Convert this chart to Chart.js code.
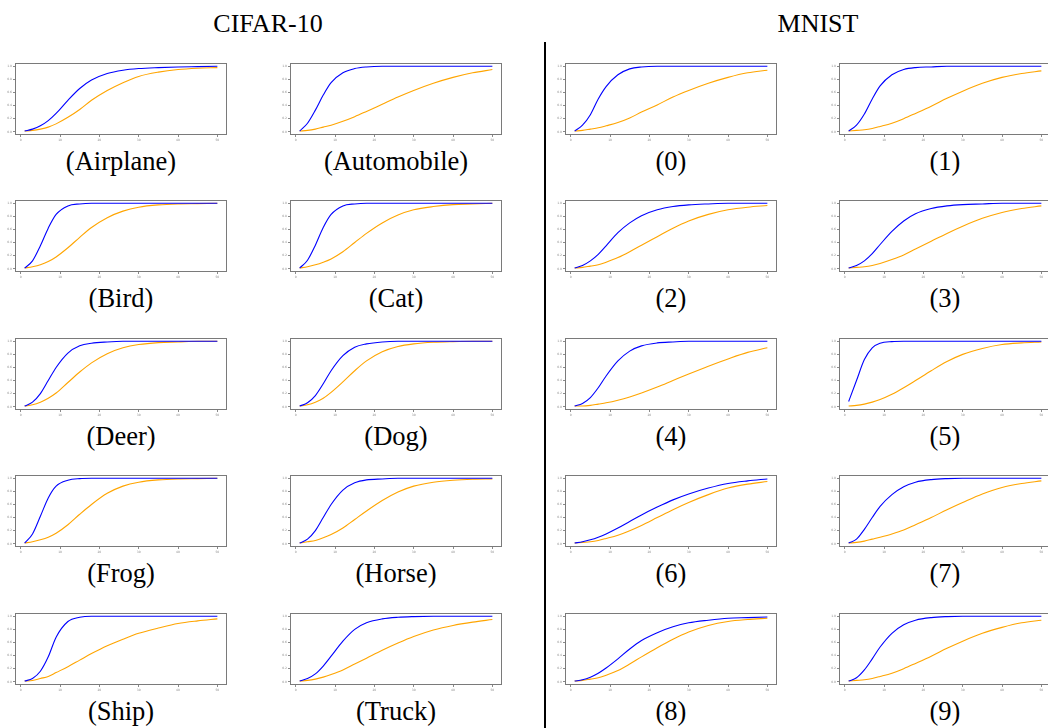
<!DOCTYPE html>
<html>
<head>
<meta charset="utf-8">
<script src="https://cdn.jsdelivr.net/npm/chart.js@4.4.1/dist/chart.umd.min.js"></script>
<style>
  html, body { margin:0; padding:0; background:#fff; width:1048px; height:728px; overflow:hidden; }
  body { position:relative; font-family:"Liberation Serif","Times New Roman",serif; }
  .panel { position:absolute; }
  .cap { position:absolute; width:300px; text-align:center; font-size:26.5px; line-height:30px; color:#000; white-space:nowrap; }
  .title { position:absolute; width:300px; text-align:center; font-size:26px; line-height:30px; color:#000; }
  #divider { position:absolute; left:544px; top:42px; width:1.5px; height:690px; background:#000; }
</style>
</head>
<body>
<div class="title" style="left:118px; top:9px;">CIFAR-10</div>
<div class="title" style="left:668px; top:9px;">MNIST</div>
<div id="divider"></div>
<script>
// ---------- data ----------
const epochs = [1, 3, 5, 7, 9, 12, 15, 18, 22, 26, 30, 35, 40, 45, 50];
const xTickValues = [0, 10, 20, 30, 40, 50];
const yTickValues = [0.0, 0.2, 0.4, 0.6, 0.8, 1.0];

const airplaneBlue   = [.01,.04,.09,.17,.28,.48,.66,.79,.89,.94,.965,.98,.99,.995,1];
const airplaneOrange = [.01,.02,.04,.07,.12,.22,.34,.48,.63,.75,.845,.91,.95,.97,.98];
const automobileBlue   = [.01,.13,.33,.56,.75,.9,.965,.99,1,1,1,1,1,1,1];
const automobileOrange = [.01,.02,.04,.07,.1,.16,.23,.31,.42,.53,.63,.74,.83,.9,.95];
const birdBlue   = [.01,.12,.35,.62,.83,.96,.99,1,1,1,1,1,1,1,1];
const birdOrange = [.01,.03,.06,.11,.18,.32,.48,.63,.78,.88,.94,.975,.99,.995,1];
const catBlue   = [.01,.13,.36,.63,.83,.96,.99,1,1,1,1,1,1,1,1];
const catOrange = [.01,.03,.06,.1,.15,.26,.4,.54,.7,.82,.9,.95,.98,.99,1];
const deerBlue   = [.01,.07,.2,.4,.6,.82,.93,.97,.99,1,1,1,1,1,1];
const deerOrange = [.01,.03,.07,.13,.21,.37,.53,.67,.81,.9,.95,.98,.99,1,1];
const dogBlue   = [.01,.06,.17,.35,.55,.78,.91,.96,.99,1,1,1,1,1,1];
const dogOrange = [.01,.03,.07,.13,.22,.38,.55,.7,.84,.92,.96,.985,.995,1,1];
const frogBlue   = [.01,.15,.42,.7,.88,.97,.995,1,1,1,1,1,1,1,1];
const frogOrange = [.01,.03,.06,.1,.16,.29,.45,.6,.77,.88,.94,.975,.99,.995,1];
const horseBlue   = [.01,.07,.2,.4,.6,.82,.93,.975,.99,1,1,1,1,1,1];
const horseOrange = [.01,.03,.05,.09,.14,.24,.37,.5,.66,.79,.88,.94,.97,.985,.99];
const shipBlue   = [.01,.05,.16,.38,.68,.92,.985,1,1,1,1,1,1,1,1];
const shipOrange = [.01,.02,.05,.08,.14,.23,.33,.43,.55,.65,.74,.82,.89,.93,.96];
const truckBlue   = [.01,.05,.12,.24,.39,.62,.8,.9,.96,.985,.995,1,1,1,1];
const truckOrange = [.01,.02,.04,.07,.11,.18,.27,.36,.48,.59,.69,.79,.86,.91,.95];

const digit0Blue   = [.01,.1,.26,.5,.69,.87,.96,.99,1,1,1,1,1,1,1];
const digit0Orange = [.01,.02,.04,.06,.09,.14,.21,.3,.41,.53,.63,.74,.83,.9,.94];
const digit1Blue   = [.01,.1,.27,.5,.7,.87,.95,.98,.99,1,1,1,1,1,1];
const digit1Orange = [.01,.02,.03,.05,.08,.13,.2,.28,.39,.51,.62,.74,.83,.89,.93];
const digit2Blue   = [.01,.05,.12,.22,.35,.55,.7,.81,.9,.95,.975,.99,1,1,1];
const digit2Orange = [.01,.02,.04,.06,.1,.17,.26,.36,.49,.62,.73,.83,.9,.94,.965];
const digit3Blue   = [.01,.05,.12,.23,.37,.57,.73,.84,.92,.96,.98,.99,1,1,1];
const digit3Orange = [.01,.02,.03,.05,.08,.14,.21,.3,.42,.54,.65,.77,.86,.92,.96];
const digit4Blue   = [.01,.05,.14,.29,.47,.7,.85,.93,.975,.99,1,1,1,1,1];
const digit4Orange = [.01,.01,.02,.04,.06,.1,.15,.21,.3,.4,.5,.62,.73,.83,.9];
const digit5Blue   = [.08,.4,.72,.9,.97,.995,1,1,1,1,1,1,1,1,1];
const digit5Orange = [.01,.02,.04,.07,.11,.19,.29,.4,.55,.69,.8,.89,.95,.975,.99];
const digit6Blue   = [.01,.03,.06,.1,.15,.24,.34,.44,.56,.67,.76,.85,.92,.96,.99];
const digit6Orange = [.01,.02,.03,.05,.08,.13,.2,.28,.4,.52,.63,.75,.85,.91,.95];
const digit7Blue   = [.01,.07,.22,.4,.57,.75,.87,.94,.98,.995,1,1,1,1,1];
const digit7Orange = [.01,.02,.04,.07,.1,.15,.21,.29,.4,.52,.63,.76,.86,.92,.96];
const digit8Blue   = [.01,.03,.07,.13,.21,.35,.5,.63,.75,.84,.9,.94,.97,.98,.99];
const digit8Orange = [.01,.02,.04,.06,.1,.17,.27,.38,.52,.65,.76,.86,.92,.95,.97];
const digit9Blue   = [.01,.06,.18,.35,.53,.74,.87,.94,.98,.995,1,1,1,1,1];
const digit9Orange = [.01,.02,.03,.05,.08,.13,.2,.28,.39,.51,.62,.74,.83,.9,.94];

const captions = ["(Airplane)","(Automobile)","(0)","(1)",
                  "(Bird)","(Cat)","(2)","(3)",
                  "(Deer)","(Dog)","(4)","(5)",
                  "(Frog)","(Horse)","(6)","(7)",
                  "(Ship)","(Truck)","(8)","(9)"];
const blueSeries = [airplaneBlue, automobileBlue, digit0Blue, digit1Blue,
                    birdBlue, catBlue, digit2Blue, digit3Blue,
                    deerBlue, dogBlue, digit4Blue, digit5Blue,
                    frogBlue, horseBlue, digit6Blue, digit7Blue,
                    shipBlue, truckBlue, digit8Blue, digit9Blue];
const orangeSeries = [airplaneOrange, automobileOrange, digit0Orange, digit1Orange,
                      birdOrange, catOrange, digit2Orange, digit3Orange,
                      deerOrange, dogOrange, digit4Orange, digit5Orange,
                      frogOrange, horseOrange, digit6Orange, digit7Orange,
                      shipOrange, truckOrange, digit8Orange, digit9Orange];

// ---------- layout ----------
const colLeft = [15, 290, 565, 839];
const rowTop  = [63, 200, 338, 475, 613];
const FW = 212, FH = 72;
const AXW = 10, AXH = 9, PADT = 3, PADR = 3;

const framePlugin = {
  id: 'frame',
  afterDraw(chart) {
    const a = chart.chartArea, c = chart.ctx;
    c.save();
    c.strokeStyle = '#7a7a7a';
    c.lineWidth = 1;
    c.strokeRect(Math.round(a.left) + 0.5, Math.round(a.top) + 0.5,
                 Math.round(a.right - a.left) - 1, Math.round(a.bottom - a.top) - 1);
    c.restore();
  }
};

captions.forEach((cap, i) => {
  const col = i % 4, row = Math.floor(i / 4);
  const fl = colLeft[col], ft = rowTop[row];
  const div = document.createElement('div');
  div.className = 'panel';
  div.style.left = (fl - AXW) + 'px';
  div.style.top = (ft - PADT) + 'px';
  const cv = document.createElement('canvas');
  const w = AXW + FW + PADR, h = PADT + FH + AXH;
  cv.width = w; cv.height = h;
  cv.style.width = w + 'px'; cv.style.height = h + 'px';
  div.appendChild(cv);
  document.body.appendChild(div);

  const capDiv = document.createElement('div');
  capDiv.className = 'cap';
  capDiv.textContent = cap;
  capDiv.style.left = (fl + FW / 2 - 150) + 'px';
  capDiv.style.top = (ft + 98 - 15) + 'px';
  document.body.appendChild(capDiv);

  const toPts = arr => epochs.map((x, k) => ({ x: x, y: arr[k] }));
  const tickFont = { size: 3, family: 'DejaVu Sans' };
  new Chart(cv, {
    type: 'line',
    data: {
      datasets: [
        { data: toPts(blueSeries[i]), borderColor: '#0000ff', borderWidth: 1.1,
          pointRadius: 0, cubicInterpolationMode: 'monotone', fill: false },
        { data: toPts(orangeSeries[i]), borderColor: '#ffa500', borderWidth: 1.1,
          pointRadius: 0, cubicInterpolationMode: 'monotone', fill: false }
      ]
    },
    options: {
      responsive: false, animation: false, events: [],
      layout: { padding: { left: 0, top: PADT, right: PADR, bottom: 0 } },
      plugins: { legend: { display: false }, tooltip: { enabled: false } },
      scales: {
        x: {
          type: 'linear', min: -1.45, max: 52.45,
          afterBuildTicks: s => { s.ticks = xTickValues.map(v => ({ value: v })); },
          afterFit: s => { s.height = AXH; },
          ticks: { font: tickFont, color: '#8a8a8a', padding: 1, maxRotation: 0, autoSkip: false,
                   callback: v => String(v) },
          grid: { display: true, drawOnChartArea: false, drawTicks: true, tickLength: 2, color: '#8a8a8a' },
          border: { display: false }
        },
        y: {
          type: 'linear', min: -0.05, max: 1.05,
          afterBuildTicks: s => { s.ticks = yTickValues.map(v => ({ value: v })); },
          afterFit: s => { s.width = AXW; },
          ticks: { font: tickFont, color: '#8a8a8a', padding: 1, autoSkip: false,
                   callback: v => v.toFixed(1) },
          grid: { display: true, drawOnChartArea: false, drawTicks: true, tickLength: 2, color: '#8a8a8a' },
          border: { display: false }
        }
      }
    },
    plugins: [framePlugin]
  });
});
</script>
</body>
</html>
